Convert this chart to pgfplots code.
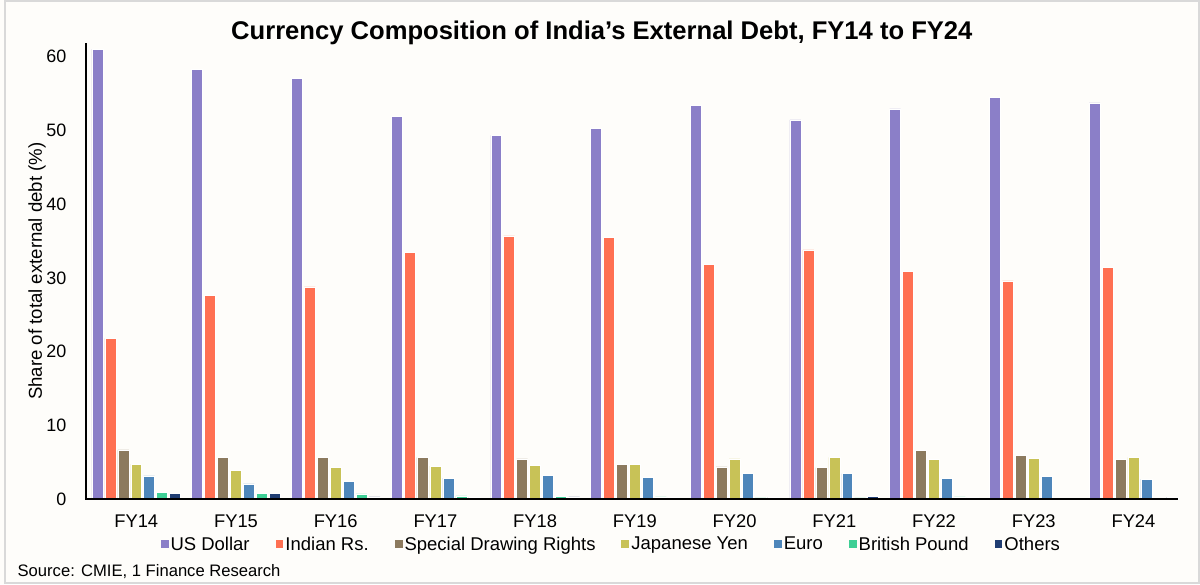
\documentclass[border=0pt]{standalone}
\usepackage{pgfplots}
\pgfplotsset{compat=1.18}
\usepackage{fontspec}
\setmainfont{Liberation Sans}
\definecolor{cusd}{HTML}{8B7FC8}
\definecolor{cinr}{HTML}{FF7052}
\definecolor{csdr}{HTML}{8C7A5E}
\definecolor{cjpy}{HTML}{C8C257}
\definecolor{ceur}{HTML}{4E86BA}
\definecolor{cgbp}{HTML}{3ECF95}
\definecolor{coth}{HTML}{203D72}
\definecolor{bg}{HTML}{FEFDFA}
\definecolor{frame}{HTML}{D9D9D9}
\begin{document}
\pagecolor{bg}
\begin{tikzpicture}
% 1 px = 0.75pt; axis lower-left corner at pixel (82.7,501)
\path (-62pt,-63.75pt) rectangle (838pt,375.75pt);
\draw[frame, line width=1.5pt] (-61.25pt,-63pt) rectangle (837.25pt,375pt);
\begin{axis}[
  name=ax,
  at={(0pt,0pt)}, anchor=south west,
  scale only axis,
  width=821.7pt, height=343.3pt,
  ymin=0, ymax=61.8,
  xmin=-0.503, xmax=10.45,
  ybar=1.5pt, bar width=8.25pt,
  axis x line*=bottom, axis y line*=left,
  axis line style={black, line width=1.5pt, -},
  ytick={0,10,20,30,40,50,60},
  xtick={0,...,10},
  xticklabels={FY14,FY15,FY16,FY17,FY18,FY19,FY20,FY21,FY22,FY23,FY24},
  major tick length=0pt,
  /pgf/number format/assume math mode=true,
  yticklabel style={font=\fontsize{13.5}{16}\selectfont, anchor=east, xshift=-11.25pt},
  xticklabel style={font=\fontsize{13.8}{16}\selectfont, anchor=center, yshift=-16.5pt},
  legend columns=7,
  legend style={draw=none, fill=none, at={(0.4808,-0.0983)}, anchor=center,
    font=\fontsize{13.9}{16}\selectfont,
    /tikz/every even column/.append style={column sep=18pt},
    nodes={inner sep=1.5pt}},
  legend image code/.code={\fill[#1, draw=none] (0pt,-3pt) rectangle (6pt,3pt);},
  clip=false,
]
\addplot[fill=cusd, draw=white, line width=0.4pt] coordinates {(0,61.0) (1,58.2) (2,57.0) (3,51.9) (4,49.3) (5,50.3) (6,53.4) (7,51.4) (8,52.9) (9,54.5) (10,53.7)};
\addplot[fill=cinr, draw=white, line width=0.4pt] coordinates {(0,21.8) (1,27.6) (2,28.8) (3,33.5) (4,35.7) (5,35.5) (6,31.8) (7,33.8) (8,30.9) (9,29.6) (10,31.4)};
\addplot[fill=csdr, draw=white, line width=0.4pt] coordinates {(0,6.7) (1,5.7) (2,5.7) (3,5.7) (4,5.5) (5,4.7) (6,4.4) (7,4.3) (8,6.6) (9,6.0) (10,5.4)};
\addplot[fill=cjpy, draw=white, line width=0.4pt] coordinates {(0,4.8) (1,3.9) (2,4.3) (3,4.5) (4,4.6) (5,4.8) (6,5.5) (7,5.7) (8,5.4) (9,5.6) (10,5.7)};
\addplot[fill=ceur, draw=white, line width=0.4pt] coordinates {(0,3.2) (1,2.1) (2,2.4) (3,2.9) (4,3.3) (5,3.0) (6,3.5) (7,3.5) (8,2.9) (9,3.1) (10,2.75)};
\addplot[fill=cgbp, draw=white, line width=0.4pt] coordinates {(0,1.0) (1,0.86) (2,0.77) (3,0.5) (4,0.45) (5,0.36) (6,0.2) (7,0.2) (8,0.36) (9,0.15) (10,0.15)};
\addplot[fill=coth, draw=white, line width=0.4pt] coordinates {(0,0.86) (1,0.86) (2,0.36) (3,0.27) (4,0.36) (5,0.27) (6,0.27) (7,0.4) (8,0.27) (9,0.15) (10,0.3)};
\legend{US Dollar, Indian Rs., Special Drawing Rights, Japanese Yen, Euro, British Pound, Others}
\end{axis}
% axis lines on top of the bars
\fill[black] ([xshift=-0.75pt]ax.north west) rectangle ([xshift=0.75pt,yshift=-0.75pt]ax.south west);
\fill[black] ([xshift=-0.75pt,yshift=-0.75pt]ax.south west) rectangle ([yshift=0.75pt]ax.south east);
\node[font=\bfseries\fontsize{19.25}{23}\selectfont, anchor=base] at (388pt,346.3pt) {Currency Composition of India's External Debt, FY14 to FY24};
\node[font=\fontsize{14}{16}\selectfont, rotate=90, anchor=base] at (-33.3pt,171.75pt) {Share of total external debt (\%)};
\node[font=\fontsize{12.5}{15}\selectfont, anchor=base west, inner sep=0pt] at (-51.7pt,-57.75pt) {Source: CMIE, 1 Finance Research};
\end{tikzpicture}
\end{document}
